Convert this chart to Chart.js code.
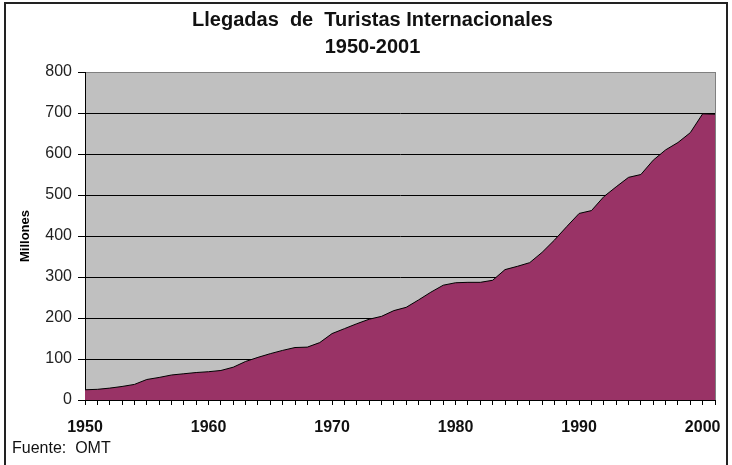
<!DOCTYPE html>
<html>
<head>
<meta charset="utf-8">
<script src="https://cdn.jsdelivr.net/npm/chart.js@4"></script>
<style>
  body{margin:0;background:#fff;}
  #wrap{position:relative;width:732px;height:465px;}
  #fuente{position:absolute;left:12px;top:439px;font:16px "Liberation Sans",Arial,sans-serif;line-height:18px;color:#111;white-space:pre;}
</style>
</head>
<body>
<div id="wrap">
  <canvas id="myChart" width="732" height="465"></canvas>
  <div id="fuente">Fuente:  OMT</div>
</div>
<script>
// llegadas de turistas internacionales, millones
var years = [1950,1951,1952,1953,1954,1955,1956,1957,1958,1959,
             1960,1961,1962,1963,1964,1965,1966,1967,1968,1969,
             1970,1971,1972,1973,1974,1975,1976,1977,1978,1979,
             1980,1981,1982,1983,1984,1985,1986,1987,1988,1989,
             1990,1991,1992,1993,1994,1995,1996,1997,1998,1999,
             2000,2001];
var llegadas = [25,26,29,33,38,50,55,61,64,67,
                69,72,80,94,104,113,121,128,129,140,
                162,174,186,197,204,218,226,244,263,280,
                286,287,287,292,318,326,335,360,390,423,
                455,462,496,520,543,550,585,610,628,652,
                698,697];
var yTicks = [0,100,200,300,400,500,600,700,800];
var titulo = ['Llegadas  de  Turistas Internacionales','1950-2001'];

var fuente = '"Liberation Sans", Arial, sans-serif';

var fondo = {
  id:'fondo',
  beforeDraw:function(chart){
    var c=chart.ctx, a=chart.chartArea;
    c.save();
    c.fillStyle='#fff';
    c.fillRect(0,0,chart.width,chart.height);
    c.strokeStyle='#222';
    c.lineWidth=2;
    c.strokeRect(5,3,722,470);
    c.fillStyle='#c0c0c0';
    c.fillRect(a.left,a.top,a.right-a.left,a.bottom-a.top);
    c.strokeStyle='#808080';
    c.lineWidth=1;
    c.strokeRect(a.left+0.5,a.top+0.5,a.right-a.left,a.bottom-a.top);
    c.restore();
  }
};

var ctx = document.getElementById('myChart');
var myChart = new Chart(ctx, {
  type:'line',
  data:{
    labels:years.map(String),
    datasets:[{
      label:'Llegadas',
      data:llegadas,
      fill:'origin',
      backgroundColor:'#993366',
      borderColor:'#000',
      borderWidth:1,
      pointRadius:0,
      tension:0
    }]
  },
  options:{
    responsive:false,
    animation:false,
    layout:{padding:{left:18,right:5,top:0,bottom:27.4}},
    plugins:{
      legend:{display:false},
      tooltip:{enabled:false},
      title:{
        display:true,
        text:titulo,
        color:'#111',
        font:{family:fuente,size:20,weight:'bold',lineHeight:1.35},
        padding:{top:6.5,bottom:11.5}
      }
    },
    scales:{
      x:{
        offset:false,
        afterFit:function(s){ s.paddingRight=17; s.paddingLeft=0; s.height=37.6; },
        grid:{drawOnChartArea:false,drawTicks:true,tickLength:5,color:'#000'},
        border:{color:'#000'},
        ticks:{
          autoSkip:false,maxRotation:0,padding:13.4,color:'#111',
          font:{family:fuente,size:16,weight:'bold',lineHeight:1.2},
          callback:function(v,i){ return years[i]%10===0 ? String(years[i]) : ''; }
        }
      },
      y:{
        min:0,max:800,
        afterFit:function(s){ s.width=67; },
        afterBuildTicks:function(s){ s.ticks=yTicks.map(function(v){return {value:v};}); },
        grid:{
          color:function(c){ return c.tick && c.tick.value===800 ? '#808080' : '#000'; },
          tickColor:'#000',
          tickLength:7,
          lineWidth:1
        },
        border:{color:'#000'},
        ticks:{padding:6,color:'#222',font:{family:fuente,size:16}},
        title:{
          display:true,text:'Millones',color:'#000',
          font:{family:fuente,size:13,weight:'bold',lineHeight:1.2},
          padding:{top:0,bottom:0}
        }
      }
    }
  },
  plugins:[fondo]
});
</script>
</body>
</html>
